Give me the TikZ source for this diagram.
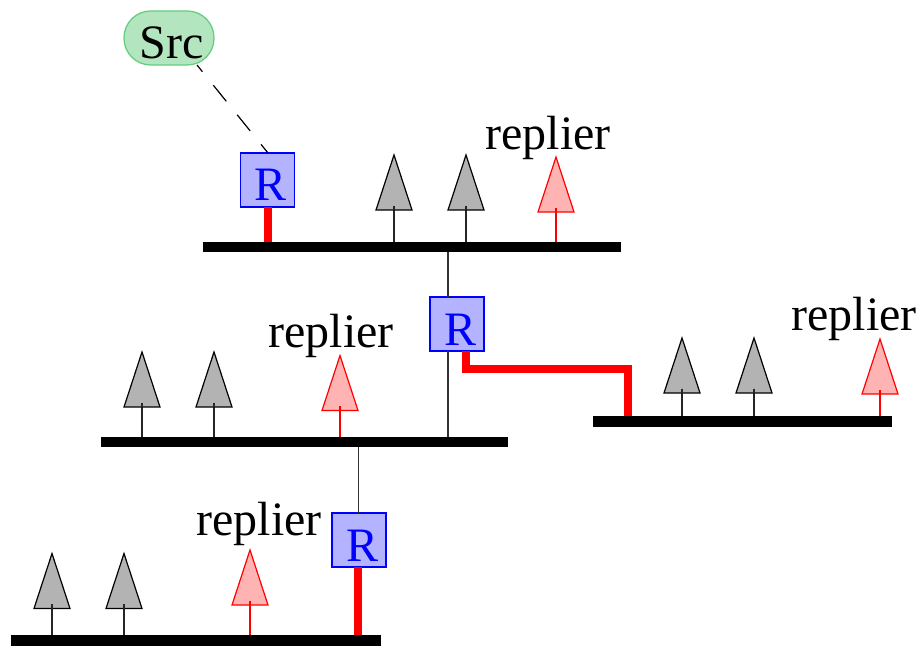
\documentclass[tikz,border=0pt]{standalone}
\usepackage{fontspec}
\setmainfont{Liberation Serif}
\definecolor{srcfill}{HTML}{B3E6BF}
\definecolor{srcline}{HTML}{66CC80}
\definecolor{rfill}{HTML}{B3B3FF}
\definecolor{redfill}{HTML}{FFB3B3}
\definecolor{treefill}{HTML}{B3B3B3}
\tikzset{
  lan/.style={fill=black,inner sep=0pt,outer sep=0pt,minimum height=10.5*0.75pt},
  router/.style={draw=blue,fill=rfill,line width=0.95pt,inner sep=0pt,outer sep=0pt,
    minimum width=54*0.75pt,minimum height=54*0.75pt,text=blue,font=\fontsize{36}{40}\selectfont},
  srcbox/.style={draw=srcline,fill=srcfill,line width=0.95pt,rounded corners=20pt,inner sep=0pt,outer sep=0pt,
    minimum width=90*0.75pt,minimum height=54*0.75pt,font=\fontsize{36}{40}\selectfont},
  label/.style={anchor=base,inner sep=0pt,font=\fontsize{36}{40}\selectfont},
  tree/.style={draw=black,fill=treefill,line width=0.9pt},
  stem/.style={draw=black!85,line width=0.9pt},
  goodtree/.style={draw=red,fill=redfill,line width=0.9pt},
  goodstem/.style={draw=red,line width=0.9pt},
  wire/.style={draw=black!80,line width=0.9pt},
  fat/.style={draw=red,line width=6pt},
}
% text placed relative to the node centre: #1 = twice the shift to the right, #2 = baseline below centre
\newcommand{\offtext}[3]{\raisebox{-#2}[0pt][0pt]{\makebox[0pt]{\hspace*{#1}#3}}}
% \hst{x}{apex y}{bar}{triangle style}{stem style}
\newcommand{\hst}[5]{%
  \coordinate (t#1) at (#1,-#2-50.5);
  \path[#5] (t#1) -- (t#1 |- #3.north);
  \path[#4] (#1,-#2) -- (#1+18,-#2-55) -- (#1-18,-#2-55) -- cycle;
  \path[#5] (t#1) -- (#1,-#2-55);
}
\begin{document}
\begin{tikzpicture}[x=0.75pt,y=0.75pt]
\useasboundingbox (0,0) rectangle (919,-645);
% LANs
\node[lan,minimum width=418*0.75pt] (bara) at (412,-246.8) {};
\node[lan,minimum width=407*0.75pt] (barb) at (304.5,-442) {};
\node[lan,minimum width=299*0.75pt] (barc) at (742.5,-421.5) {};
\node[lan,minimum width=370.5*0.75pt] (bard) at (196.2,-640.3) {};
% routers and source
\node[srcbox] (src) at (169,-38) {\offtext{3.8pt}{15.5pt}{Src}};
\node[router] (ra) at (267.5,-180) {\offtext{4.5pt}{15.75pt}{R}};
\node[router] (rb) at (457,-324) {\offtext{4.5pt}{15.75pt}{R}};
\node[router] (rc) at (359,-540) {\offtext{4.5pt}{15.75pt}{R}};
% connectors
\draw[dashed,line width=0.9pt,dash pattern=on 15.5pt off 13pt,dash phase=9pt]
  ([xshift=28*0.75pt]src.south) -- ([xshift=0.5*0.75pt]ra.north);
\draw[fat] (ra.south) -- (ra.south |- bara.north);
\draw[wire] (bara.south -| 448,0) -- ([xshift=-9*0.75pt]rb.north);
\draw[wire] ([xshift=-9*0.75pt]rb.south) -- ([xshift=-9*0.75pt]rb.south |- barb.north);
\draw[fat,line join=miter] ([xshift=9*0.75pt]rb.south) |- (627.7,-369) -- (627.7 ,-369 |- barc.north);
\draw[wire] ([xshift=-0.5*0.75pt]rc.north |- barb.south) -- ([xshift=-0.5*0.75pt]rc.north);
\draw[fat] ([xshift=-1*0.75pt]rc.south) -- ([xshift=-1*0.75pt]rc.south |- bard.north);
% hosts
\hst{394}{155}{bara}{tree}{stem}
\hst{466}{155}{bara}{tree}{stem}
\hst{556}{157}{bara}{goodtree}{goodstem}
\hst{142}{352}{barb}{tree}{stem}
\hst{214}{352}{barb}{tree}{stem}
\hst{340}{355.5}{barb}{goodtree}{goodstem}
\hst{682}{338}{barc}{tree}{stem}
\hst{754}{338}{barc}{tree}{stem}
\hst{880}{339}{barc}{goodtree}{goodstem}
\hst{52}{553.5}{bard}{tree}{stem}
\hst{124}{553.5}{bard}{tree}{stem}
\hst{250}{550}{bard}{goodtree}{goodstem}
% labels
\node[label] (la) at (548,-150) {replier};
\node[label] (lb) at (331,-347) {replier};
\node[label] (lc) at (854,-330) {replier};
\node[label] (ld) at (259,-535) {replier};
\end{tikzpicture}
\end{document}
